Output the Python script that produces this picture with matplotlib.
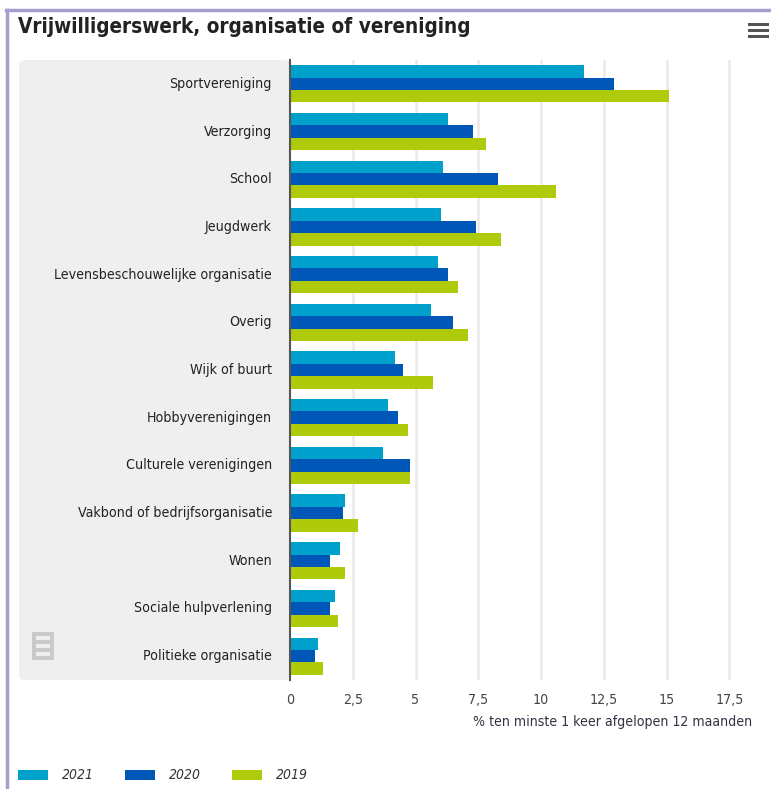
import matplotlib
matplotlib.use("Agg")
import matplotlib.pyplot as plt
from matplotlib.patches import FancyBboxPatch, Rectangle
from matplotlib.lines import Line2D
import numpy as np

categories = ["Sportvereniging", "Verzorging", "School", "Jeugdwerk",
              "Levensbeschouwelijke organisatie", "Overig", "Wijk of buurt",
              "Hobbyverenigingen", "Culturele verenigingen",
              "Vakbond of bedrijfsorganisatie", "Wonen",
              "Sociale hulpverlening", "Politieke organisatie"]
v2021 = [11.7, 6.3, 6.1, 6.0, 5.9, 5.6, 4.2, 3.9, 3.7, 2.2, 2.0, 1.8, 1.1]
v2020 = [12.9, 7.3, 8.3, 7.4, 6.3, 6.5, 4.5, 4.3, 4.8, 2.1, 1.6, 1.6, 1.0]
v2019 = [15.1, 7.8, 10.6, 8.4, 6.7, 7.1, 5.7, 4.7, 4.8, 2.7, 2.2, 1.9, 1.3]
series_names = ["2021", "2020", "2019"]
colors = ["#00a0cc", "#0057b7", "#afca0b"]
xticks = [0, 2.5, 5, 7.5, 10, 12.5, 15, 17.5]
xticklabels = ["0", "2,5", "5", "7,5", "10", "12,5", "15", "17,5"]
title = "Vrijwilligerswerk, organisatie of vereniging"
xlabel = "% ten minste 1 keer afgelopen 12 maanden"

W, H = 771, 789
fig = plt.figure(figsize=(W / 100, H / 100), dpi=100)
fig.patch.set_facecolor("white")
renderer = fig.canvas.get_renderer()

FAM = "DejaVu Sans"
STRETCH = "condensed"


def fx(px):
    return px / W


def fy(py):
    return 1 - py / H


def fit(t, target_px):
    """Scale font size so that text t has target width in pixels."""
    w = t.get_window_extent(renderer=renderer).width
    if w > 0:
        t.set_fontsize(t.get_fontsize() * target_px / w)


# frame lines
fig.add_artist(Line2D([fx(7), fx(7)], [fy(10), fy(789)], color="#a69ecf", lw=2.5))
fig.add_artist(Line2D([fx(6), fx(771)], [fy(10), fy(10)], color="#a69ecf", lw=2.5))

# title
tt = fig.text(fx(18), fy(27), title, fontsize=15, fontweight="bold", color="#222222",
              family=FAM, fontstretch=STRETCH, va="center", ha="left")
fit(tt, 455)

# hamburger icon
for yy in (24, 30, 36):
    fig.add_artist(Line2D([fx(749), fx(767)], [fy(yy), fy(yy)], color="#555555", lw=2.2))

# gray label panel
panel = FancyBboxPatch((fx(19), fy(680)), fx(290) - fx(19), fy(60) - fy(680),
                       boxstyle="round,pad=0,rounding_size=0.008",
                       transform=fig.transFigure, facecolor="#efefef",
                       edgecolor="none", zorder=0)
fig.add_artist(panel)

# plot axes
ax = fig.add_axes([fx(290), fy(680), fx(770) - fx(290), fy(60) - fy(680)])
ax.set_facecolor("none")
n = len(categories)
y = np.arange(n)
h = 0.26
for k, (vals, c, name) in enumerate(zip([v2021, v2020, v2019], colors, series_names)):
    ax.barh(y + (k - 1) * h, vals, height=h, color=c, label=name, zorder=3)

ax.set_ylim(n - 0.5, -0.5)
ax.set_xlim(0, 480 / 25.1)
ax.set_xticks([])
ax.set_yticks([])
ax.grid(False)
for xv in xticks[1:]:
    ax.axvline(xv, color="#e9e9e9", lw=1.8, zorder=0)
for s in ["top", "right", "bottom"]:
    ax.spines[s].set_visible(False)
ax.spines["left"].set_color("#555555")
ax.spines["left"].set_linewidth(1.5)
ax.spines["left"].set_zorder(4)

# category labels (size derived from the longest label)
probe = fig.text(0, 0, "Levensbeschouwelijke organisatie", fontsize=10,
                 family=FAM, fontstretch=STRETCH)
fit(probe, 218)
lab_fs = probe.get_fontsize()
probe.remove()
for i, cat in enumerate(categories):
    ax.text(-18 / 25.1, i, cat, ha="right", va="center", fontsize=lab_fs,
            family=FAM, fontstretch=STRETCH, color="#222222")

# tick labels
for xv, lab in zip(xticks, xticklabels):
    ax.text(xv, n - 0.5 + 20 / 47.7, lab, ha="center", va="center", fontsize=lab_fs,
            family=FAM, fontstretch=STRETCH, color="#444444")

xl = fig.text(fx(752), fy(722), xlabel, family=FAM, fontstretch=STRETCH,
              fontsize=10, color="#333344", ha="right", va="center")
fit(xl, 278)

# CBS-like logo (simple)
lg = "#cacaca"
for (x0, y0, w0, h0) in [(32, 632, 22, 4), (32, 640, 22, 4), (32, 648, 22, 4),
                         (32, 656, 22, 4), (32, 632, 4, 28), (50, 632, 4, 28)]:
    fig.add_artist(Rectangle((fx(x0), fy(y0 + h0)), w0 / W, h0 / H,
                             transform=fig.transFigure, facecolor=lg,
                             edgecolor="none"))

# legend
lx = [18, 125, 232]
for x0, c, name in zip(lx, colors, series_names):
    fig.add_artist(Rectangle((fx(x0), fy(780)), 30 / W, 10 / H,
                             transform=fig.transFigure, facecolor=c,
                             edgecolor="none"))
    lt = fig.text(fx(x0 + 44), fy(775), name, family=FAM, fontstretch=STRETCH,
                  fontsize=10, style="italic", color="#333333", va="center", ha="left")
    fit(lt, 32)

fig.savefig("out.png", dpi=100)
